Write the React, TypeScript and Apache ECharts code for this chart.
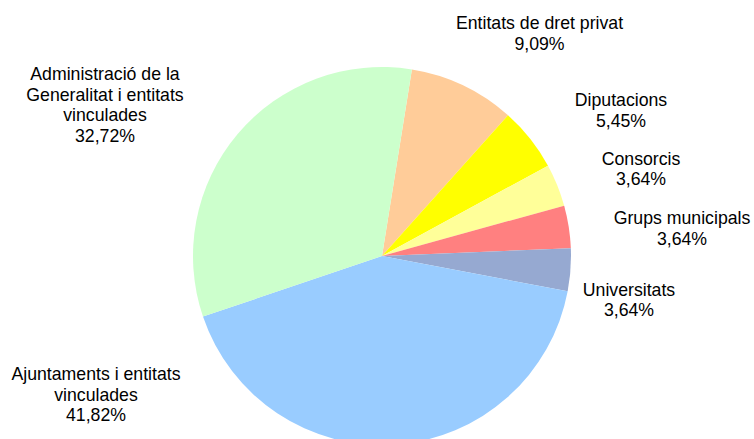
import React, { useEffect, useRef } from "react";
import * as echarts from "echarts";

const categories = [
  "Entitats de dret privat",
  "Diputacions",
  "Consorcis",
  "Grups municipals",
  "Universitats",
  "Ajuntaments i entitats\nvinculades",
  "Administració de la\nGeneralitat i entitats\nvinculades",
];
const values = [9.09, 5.45, 3.64, 3.64, 3.64, 41.82, 32.72];
const colors = ["#FFCC99", "#FFFF00", "#FFFF99", "#FF8080", "#96A9D1", "#99CCFF", "#CCFFCC"];
// label anchor points (centre of each text block), layout only
const labelAnchors: [number, number][] = [
  [539.5, 33.5],
  [621, 110.5],
  [641, 169],
  [682, 228.5],
  [629, 300],
  [96, 394.5],
  [105, 105],
];

export default function App() {
  const ref = useRef<HTMLDivElement>(null);
  useEffect(() => {
    if (!ref.current) return;
    const chart = echarts.init(ref.current, undefined, { renderer: "svg" });
    chart.setOption({
      animation: false,
      backgroundColor: "#FFFFFF",
      series: [
        {
          type: "pie",
          center: [382, 256],
          radius: 189,
          startAngle: 80.9,
          clockwise: true,
          avoidLabelOverlap: false,
          itemStyle: { borderWidth: 0 },
          emphasis: { disabled: true },
          labelLine: { show: false },
          label: {
            show: true,
            position: "outside",
            color: "#000000",
            fontFamily: "Arial, 'Liberation Sans', sans-serif",
            fontSize: 17.7,
            lineHeight: 20.5,
            align: "center",
            formatter: (p: any) =>
              p.name + "\n" + Number(p.value).toFixed(2).replace(".", ",") + "%",
          },
          labelLayout: (p: any) => {
            const a = labelAnchors[p.dataIndex];
            return { x: a[0], y: a[1], align: "center", verticalAlign: "middle", hideOverlap: false };
          },
          data: categories.map((c, i) => ({
            name: c,
            value: values[i],
            itemStyle: { color: colors[i] },
          })),
        },
      ],
    });
    return () => chart.dispose();
  }, []);
  return (
    <div
      ref={ref}
      style={{ position: "fixed", left: 0, top: 0, width: 754, height: 439, background: "#fff" }}
    />
  );
}
